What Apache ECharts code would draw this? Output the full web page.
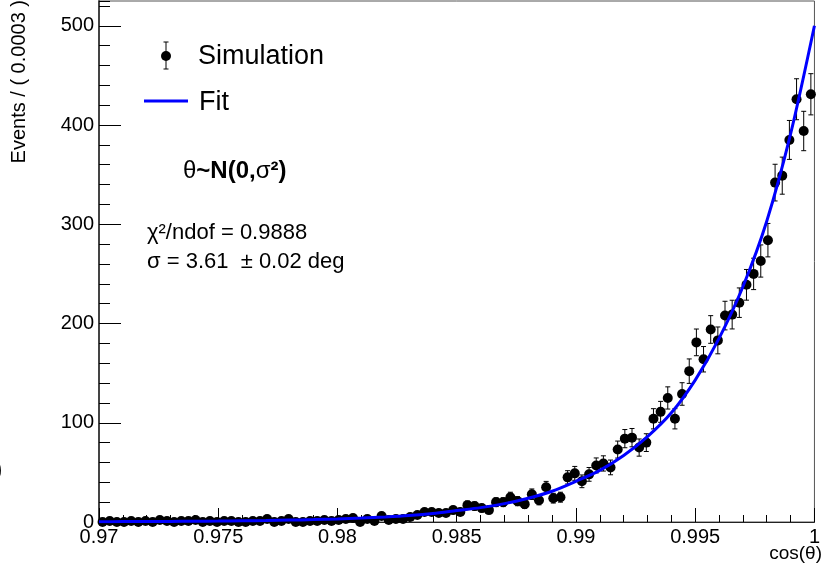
<!DOCTYPE html>
<html>
<head>
<meta charset="utf-8">
<script src="https://cdn.jsdelivr.net/npm/echarts@6/dist/echarts.min.js"></script>
<style>
  html, body { margin: 0; padding: 0; background: #fff; }
  #chart { width: 823px; height: 565px; }
</style>
</head>
<body>
<div id="chart"></div>
<script>
// Histogram of cos(theta): 100 bins of width 0.0003 from 0.97 to 1.0
const BIN_LO = 0.97;
const BIN_W = 0.0003;
const COUNTS = [
  0, 1, 0, 0, 1, 0, 1, 0, 2, 1,
  0, 1, 1, 2, 0, 1, 0, 1, 1, 0,
  0, 1, 1, 3, 0, 1, 3, 0, 0, 1,
  1, 2, 1, 2, 3, 4, 0, 3, 1, 6,
  2, 3, 3, 5, 7, 10, 10, 9, 9, 12,
  10, 17, 16, 14, 12, 20, 20, 25, 21, 18,
  28, 22, 35, 24, 25, 45, 49, 41, 48, 57,
  59, 55, 73, 84, 85, 75, 80, 104, 111, 125,
  104, 129, 152, 181, 164, 194, 183, 208, 209, 221,
  239, 250, 263, 284, 342, 349, 385, 426, 394, 431
];

// Fitted curve, sampled every 0.001 in cos(theta)
const FIT_X = [0.970, 0.971, 0.972, 0.973, 0.974, 0.975, 0.976, 0.977, 0.978, 0.979,
               0.980, 0.981, 0.982, 0.983, 0.984, 0.985, 0.986, 0.987, 0.988, 0.989,
               0.990, 0.991, 0.992, 0.993, 0.994, 0.995, 0.996, 0.997, 0.998, 0.999, 1.000];
const FIT_Y = [0.3, 0.4, 0.5, 0.6, 0.8, 0.9, 1.2, 1.5, 1.9, 2.4,
               3.1, 4.0, 5.1, 6.5, 8.5, 11.5, 14.5, 18.5, 24, 31,
               41, 52, 67, 86, 110, 143, 185, 237, 303, 391, 500];

// Axis tick labels
const X_TICKS = ['0.97', '0.975', '0.98', '0.985', '0.99', '0.995', '1'];
const Y_TICKS = ['0', '100', '200', '300', '400', '500'];

const FONT = "'Liberation Sans', Arial, Helvetica, sans-serif";

const centers = COUNTS.map((_, i) => BIN_LO + (i + 0.5) * BIN_W);
const points = COUNTS.map((n, i) => [centers[i], n]);
const errBars = COUNTS.map((n, i) => {
  const e = Math.sqrt(n);
  return [centers[i], n - e, n + e];
});
const fitLine = FIT_X.map((x, i) => [x, FIT_Y[i]]);

const chart = echarts.init(document.getElementById('chart'), null, { renderer: 'canvas' });

const option = {
  animation: false,
  backgroundColor: '#ffffff',
  grid: {
    left: 99, right: 2, top: 1, bottom: 43,
    show: true, borderColor: '#555', borderWidth: 1, backgroundColor: 'transparent'
  },
  xAxis: {
    type: 'value', min: 0.97, max: 1.0, interval: 0.005,
    axisLine: { show: true, onZero: false, lineStyle: { color: '#222', width: 1 } },
    axisTick: { show: true, inside: true, length: 14, lineStyle: { color: '#000', width: 1 } },
    minorTick: { show: true, splitNumber: 5, length: 7, lineStyle: { color: '#000', width: 1 } },
    splitLine: { show: false },
    axisLabel: {
      fontSize: 20, color: '#000', fontFamily: FONT, margin: 5,
      showMinLabel: true, showMaxLabel: true,
      formatter: v => X_TICKS[Math.round((v - 0.97) / 0.005)]
    }
  },
  yAxis: [
    {
      type: 'value', min: 0, max: 525, interval: 100,
      axisLine: { show: true, lineStyle: { color: '#444', width: 2 } },
      axisTick: { show: true, inside: true, length: 22, lineStyle: { color: '#000', width: 1 } },
      splitLine: { show: false },
      axisLabel: {
        fontSize: 20, color: '#000', fontFamily: FONT, margin: 5,
        showMaxLabel: false,
        formatter: v => (v % 100 === 0 ? Y_TICKS[v / 100] : '')
      }
    },
    {
      // secondary ticks every 20 events
      type: 'value', min: 0, max: 525, interval: 20, position: 'left',
      axisLine: { show: false },
      axisTick: { show: true, inside: true, length: 11, lineStyle: { color: '#000', width: 1 } },
      axisLabel: { show: false },
      splitLine: { show: false }
    }
  ],
  series: [
    {
      type: 'custom',
      name: 'errors',
      xAxisIndex: 0, yAxisIndex: 0,
      data: errBars,
      z: 2,
      renderItem: function (params, api) {
        const x = api.value(0), lo = api.value(1), hi = api.value(2);
        if (hi - lo <= 0) return null;
        const a = api.coord([x, lo]);
        const b = api.coord([x, hi]);
        const cap = 2.5;
        const st = { stroke: '#000', lineWidth: 1 };
        return {
          type: 'group',
          children: [
            { type: 'line', shape: { x1: a[0], y1: a[1], x2: b[0], y2: b[1] }, style: st },
            { type: 'line', shape: { x1: b[0] - cap, y1: b[1], x2: b[0] + cap, y2: b[1] }, style: st },
            { type: 'line', shape: { x1: a[0] - cap, y1: a[1], x2: a[0] + cap, y2: a[1] }, style: st }
          ]
        };
      }
    },
    {
      type: 'scatter',
      name: 'Simulation',
      xAxisIndex: 0, yAxisIndex: 0,
      data: points,
      symbol: 'circle',
      symbolSize: 10,
      itemStyle: { color: '#000', opacity: 1 },
      z: 3
    },
    {
      type: 'line',
      name: 'Fit',
      xAxisIndex: 0, yAxisIndex: 0,
      data: fitLine,
      smooth: 0.3,
      showSymbol: false,
      lineStyle: { color: '#0000ff', width: 3 },
      z: 4
    }
  ],
  graphic: [
    // legend: data marker with error bar
    { type: 'line', shape: { x1: 166, y1: 42, x2: 166, y2: 69 }, style: { stroke: '#000', lineWidth: 1 } },
    { type: 'line', shape: { x1: 163.5, y1: 42, x2: 168.5, y2: 42 }, style: { stroke: '#000', lineWidth: 1 } },
    { type: 'line', shape: { x1: 163.5, y1: 69, x2: 168.5, y2: 69 }, style: { stroke: '#000', lineWidth: 1 } },
    { type: 'circle', shape: { cx: 166, cy: 56, r: 5 }, style: { fill: '#000' } },
    { type: 'text', x: 198, y: 57, style: { text: 'Simulation', font: '27px ' + FONT, fill: '#000', verticalAlign: 'middle' } },
    // legend: fit line
    { type: 'line', shape: { x1: 144, y1: 101, x2: 188, y2: 101 }, style: { stroke: '#0000ff', lineWidth: 3 } },
    { type: 'text', x: 199, y: 103, style: { text: 'Fit', font: '27px ' + FONT, fill: '#000', verticalAlign: 'middle' } },
    // model annotation
    {
      type: 'text', x: 183, y: 171,
      style: {
        text: '{n|θ}{b|~N(0,}{n|σ}{b|²)}',
        verticalAlign: 'middle',
        rich: {
          n: { fontSize: 24, fontFamily: FONT, fill: '#000', fontWeight: 'normal' },
          b: { fontSize: 24, fontFamily: FONT, fill: '#000', fontWeight: 'bold' }
        }
      }
    },
    { type: 'text', x: 147, y: 233, style: { text: 'χ²/ndof = 0.9888', font: '22px ' + FONT, fill: '#000', verticalAlign: 'middle' } },
    { type: 'text', x: 147, y: 262, style: { text: 'σ = 3.61  ± 0.02 deg', font: '22px ' + FONT, fill: '#000', verticalAlign: 'middle' } },
    // axis titles
    { type: 'text', x: 822, y: 554, style: { text: 'cos(θ)', font: '19px ' + FONT, fill: '#000', align: 'right', verticalAlign: 'middle' } },
    {
      type: 'text', x: 19, y: 0, rotation: Math.PI / 2,
      style: { text: 'Events / ( 0.0003 )', font: '20px ' + FONT, fill: '#000', align: 'right', verticalAlign: 'middle' }
    },
    { type: 'text', x: -5, y: 470, style: { text: ')', font: '22px ' + FONT, fill: '#000', verticalAlign: 'middle' } }
  ]
};

chart.setOption(option);
</script>
</body>
</html>
